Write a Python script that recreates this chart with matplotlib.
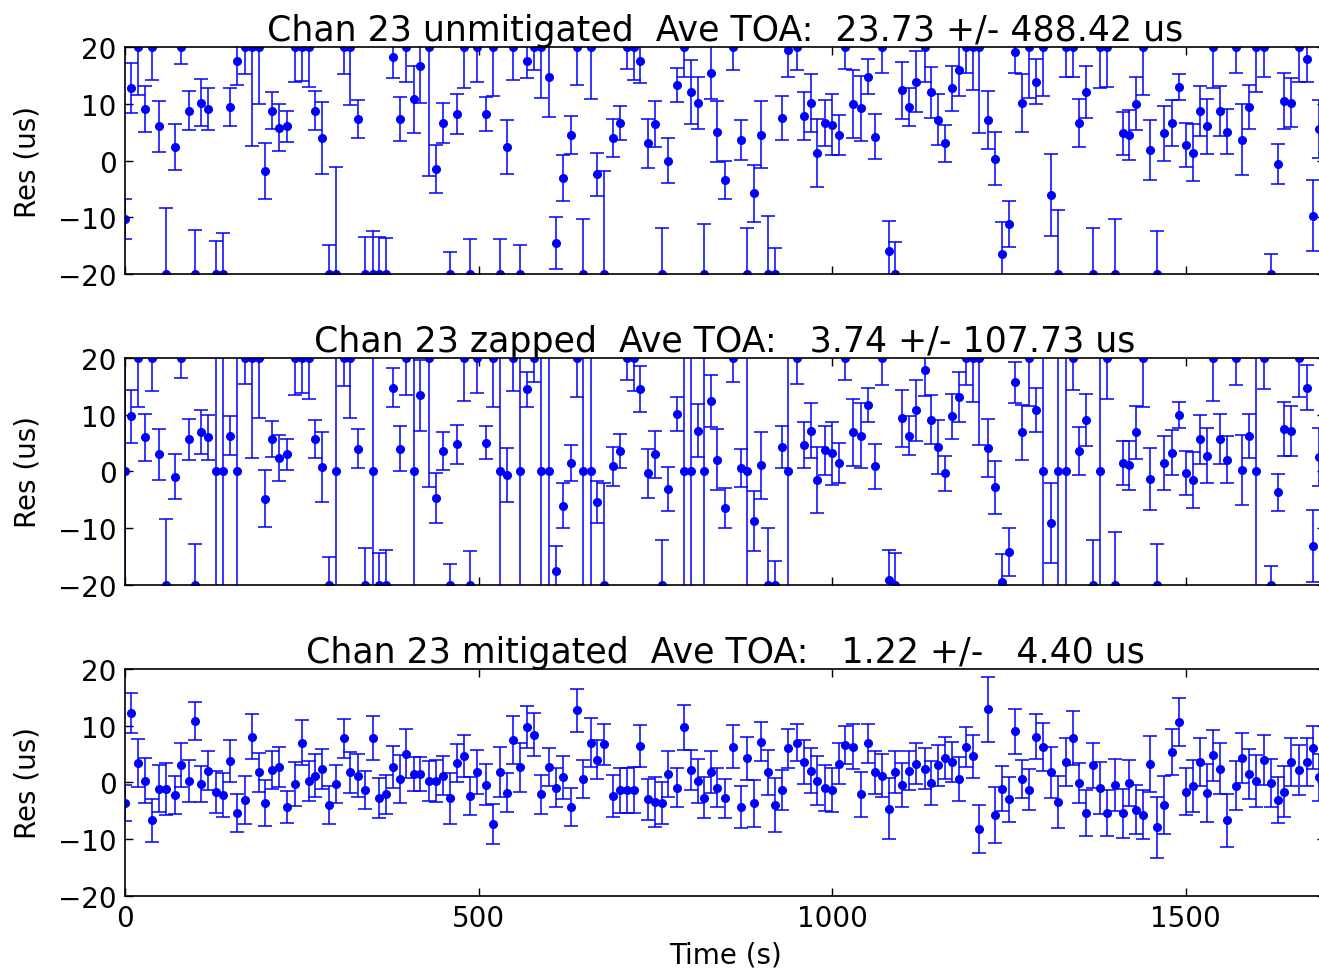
import matplotlib
matplotlib.use('Agg')
import matplotlib.pyplot as plt

# Time of each TOA (s)
times = [0, 9, 19, 28, 38, 48, 58, 70, 79, 90,
         99, 108, 118, 128, 138, 148, 159, 170, 180, 189,
         198, 208, 218, 229, 240, 250, 260, 269, 279, 288,
         298, 309, 318, 330, 340, 350, 359, 369, 379, 389,
         398, 408, 417, 430, 440, 449, 459, 469, 479, 488,
         498, 510, 520, 530, 540, 549, 559, 568, 578, 588,
         600, 610, 620, 630, 639, 648, 659, 668, 678, 690,
         700, 710, 720, 728, 739, 750, 759, 768, 780, 790,
         800, 810, 819, 828, 837, 849, 860, 871, 880, 890,
         900, 909, 919, 929, 938, 950, 960, 970, 979, 990,
         1000, 1009, 1018, 1029, 1041, 1050, 1060, 1070, 1081, 1089,
         1099, 1109, 1118, 1131, 1140, 1150, 1160, 1170, 1180, 1189,
         1199, 1208, 1220, 1230, 1240, 1250, 1259, 1268, 1279, 1288,
         1298, 1310, 1320, 1330, 1340, 1349, 1359, 1369, 1379, 1388,
         1400, 1411, 1420, 1430, 1440, 1450, 1459, 1469, 1480, 1491,
         1500, 1510, 1520, 1530, 1539, 1549, 1559, 1571, 1580, 1590,
         1600, 1610, 1620, 1630, 1639, 1649, 1660, 1671, 1680, 1689]

# Unmitigated residuals (us); off-scale points sit on the +/-20 edge
res_unmit = [-10.3, 12.7, 20, 9.1, 20, 6.0, -20, 2.4, 20, 8.8,
             -20, 10.2, 9.1, -20, -20, 9.4, 17.5, 20, 20, 20,
             -1.9, 8.8, 5.8, 6.0, 20, 20, 20, 8.8, 4.0, -20,
             -20, 20, 20, 7.3, -20, -20, -20, -20, 18.2, 7.3,
             20, 10.8, 16.7, 20, -1.5, 6.6, -20, 8.2, 20, -20,
             20, 8.2, 20, -20, 2.4, 20, -20, 17.5, 20, 20,
             14.8, -14.5, -3.1, 4.5, 20, -20, 20, -2.4, -20, 4.0,
             6.6, 20, 20, 17.6, 3.0, 6.4, -20, 0.0, 13.3, 20,
             12.1, 10.2, -20, 15.5, 5.1, -3.4, 20, 3.6, -20, -5.8,
             4.5, -20, -20, 7.5, 19.5, 20, 7.8, 10.2, 1.4, 6.6,
             6.3, 4.5, 20, 10.0, 9.2, 14.8, 4.2, 20, -16.0, -20,
             12.4, 9.4, 13.9, 20, 12.0, 7.2, 3.0, 12.7, 16.0, 20,
             20, 20, 7.2, 0.3, -16.4, -11.2, 19.1, 10.2, 20, 13.9,
             20, -6.1, -20, 20, 20, 6.6, 12.1, -20, 20, 20,
             -20, 4.8, 4.5, 10.0, 20, 1.8, -20, 4.8, 6.6, 13.0,
             2.7, 1.4, 8.8, 6.0, 20, 8.8, 5.1, 20, 3.7, 9.4,
             20, 20, -20, -0.6, 10.5, 10.2, 20, 17.9, -9.7, 5.6]
err_unmit = [3.5, 4.4, 8.5, 4.0, 5.8, 4.5, 11.7, 4.0, 3.0, 3.4,
             7.8, 4.1, 3.7, 5.8, 7.2, 3.4, 4.2, 4.7, 17.4, 10.0,
             4.9, 3.2, 4.1, 2.7, 6.2, 6.0, 7.1, 3.4, 6.3, 5.1,
             18.8, 4.8, 10.3, 3.4, 6.6, 7.5, 6.6, 6.3, 3.7, 3.9,
             6.2, 5.9, 6.5, 22.7, 4.2, 3.5, 3.9, 3.5, 7.3, 6.2,
             6.1, 3.0, 8.6, 6.2, 4.8, 5.8, 5.1, 3.0, 4.0, 8.9,
             7.1, 4.6, 4.0, 3.3, 6.7, 9.7, 9.2, 3.8, 18.1, 3.3,
             3.0, 3.8, 5.8, 4.0, 4.3, 4.1, 8.1, 3.9, 3.0, 5.2,
             5.6, 4.6, 8.8, 4.6, 5.3, 3.4, 4.0, 3.5, 8.1, 5.0,
             5.9, 10.2, 4.5, 3.8, 4.8, 4.0, 4.2, 5.1, 6.0, 4.1,
             5.4, 3.6, 3.8, 6.0, 5.7, 3.1, 4.0, 4.6, 5.3, 5.6,
             5.0, 3.4, 5.4, 6.1, 4.5, 4.5, 3.2, 3.9, 4.6, 4.6,
             7.5, 15.1, 5.1, 4.7, 5.5, 4.0, 3.6, 5.1, 8.9, 3.9,
             8.6, 7.2, 11.2, 5.2, 5.3, 4.3, 4.6, 8.1, 7.3, 7.0,
             9.7, 3.8, 4.4, 4.7, 8.5, 5.3, 7.5, 4.8, 4.1, 2.3,
             3.9, 5.0, 4.4, 4.8, 7.3, 4.4, 4.0, 4.6, 6.2, 3.9,
             7.9, 5.2, 3.6, 3.5, 4.9, 4.3, 6.1, 4.0, 6.3, 5.1]

# Zapped residuals (us); zapped TOAs are 0 with a huge error
res_zap = [0.0, 9.7, 20, 6.0, 20, 3.0, -20, -0.9, 20, 5.7,
           -20, 7.0, 6.0, 0.0, 0.0, 6.3, 0.0, 20, 20, 20,
           -4.8, 5.7, 2.4, 3.0, 20, 20, 20, 5.7, 0.8, -20,
           0.0, 20, 20, 4.0, -20, 0.0, -20, -20, 14.8, 4.0,
           20, 0.0, 13.4, 20, -4.6, 3.6, -20, 4.8, 20, -20,
           20, 5.1, 20, 0.0, -0.6, 20, 0.0, 14.5, 20, 0.0,
           0.0, -17.6, -6.0, 1.5, 20, 0.0, 0.0, -5.4, -20, 0.9,
           3.6, 20, 20, 14.5, -0.3, 3.0, -20, -3.1, 10.2, 0.0,
           0.0, 7.2, 0.0, 12.4, 2.1, -6.4, 20, 0.6, 0.0, -8.8,
           1.1, -20, -20, 4.4, 0.0, 20, 4.7, 7.2, -1.5, 3.7,
           3.2, 1.5, 20, 6.9, 6.3, 11.8, 0.9, 20, -19.1, -20,
           9.4, 6.3, 10.8, 17.9, 9.1, 4.3, -0.3, 9.7, 13.1, 20,
           20, 20, 4.1, -2.8, -19.5, -14.2, 15.7, 6.9, 20, 10.8,
           0.0, -9.1, 0.0, 0.0, 20, 3.6, 9.1, -20, 0.0, 20,
           -20, 1.5, 1.1, 6.9, 20, -1.3, -20, 1.5, 3.3, 10.0,
           -0.3, -1.5, 5.7, 2.8, 20, 5.7, 2.1, 20, 0.3, 6.3,
           0.0, 20, -20, -3.7, 7.5, 7.2, 20, 14.8, -13.1, 2.5]
err_zap = [1000, 4.6, 8.7, 4.1, 5.9, 4.5, 11.6, 4.0, 3.6, 3.6,
           7.3, 3.9, 3.9, 1000, 1000, 3.4, 1000, 4.6, 17.6, 10.5,
           5.0, 3.2, 4.0, 2.7, 6.5, 6.1, 7.3, 3.4, 6.2, 5.0,
           1000, 4.9, 10.5, 3.4, 6.5, 1000, 5.7, 6.2, 3.5, 4.0,
           6.5, 1000, 6.3, 22.8, 4.4, 3.3, 3.7, 3.4, 7.5, 6.0,
           6.2, 2.9, 8.7, 1000, 4.8, 5.9, 1000, 3.1, 4.2, 1000,
           1000, 4.5, 4.0, 3.1, 6.9, 1000, 1000, 3.7, 17.9, 3.4,
           3.0, 3.9, 5.9, 4.1, 4.3, 4.1, 7.9, 3.9, 3.0, 1000,
           1000, 4.7, 1000, 4.6, 5.3, 3.5, 4.2, 3.4, 1000, 5.3,
           5.9, 10.0, 4.3, 3.7, 1000, 4.5, 4.1, 4.9, 5.9, 4.3,
           5.5, 3.6, 3.9, 5.9, 5.7, 3.0, 4.0, 4.8, 5.3, 5.7,
           5.0, 3.4, 5.4, 4.6, 4.3, 4.7, 3.1, 3.9, 4.4, 4.8,
           7.8, 15.3, 5.1, 4.7, 5.0, 4.2, 3.6, 4.9, 8.5, 3.9,
           1000, 7.0, 1000, 1000, 5.6, 4.2, 4.6, 7.9, 1000, 7.2,
           9.4, 3.8, 4.3, 4.7, 8.7, 5.4, 7.3, 4.8, 4.0, 2.3,
           3.9, 4.9, 4.3, 4.8, 7.5, 4.4, 4.1, 4.8, 6.2, 3.9,
           1000, 5.4, 3.3, 3.3, 4.8, 4.4, 6.8, 4.0, 6.3, 5.1]

# Mitigated residuals (us)
res_mit = [-3.6, 12.2, 3.4, 0.3, -6.7, -1.1, -1.1, -2.2, 3.1, 0.3,
           10.8, -0.3, 2.1, -1.7, -2.2, 3.7, -5.4, -3.1, 8.1, 1.8,
           -3.6, 2.2, 2.7, -4.3, -0.3, 7.0, 0.3, 1.2, 2.4, -4.0,
           -0.3, 7.8, 1.8, 1.2, -1.3, 7.8, -2.8, -2.1, 2.7, 0.6,
           5.1, 1.5, 1.5, 0.3, 0.3, 1.2, -2.8, 3.4, 4.6, -2.4,
           1.8, -0.4, -7.3, 1.8, -1.8, 7.5, 2.7, 9.7, 8.4, -2.1,
           2.7, -0.9, 0.9, -4.3, 12.7, 0.6, 7.0, 4.0, 6.7, -2.4,
           -1.4, -1.4, -1.3, 6.4, -3.0, -3.5, -3.7, 1.5, -0.9, 9.7,
           2.2, 0.3, -2.7, 1.9, -0.9, -2.8, 6.3, -4.3, 4.3, -3.7,
           7.2, 1.8, -4.0, -1.3, 6.0, 7.0, 3.6, 2.1, 0.3, -1.0,
           -1.3, 3.3, 6.6, 6.3, -2.1, 6.9, 1.8, 1.2, -4.6, 1.8,
           -0.4, 2.1, 3.3, 2.4, -0.1, 3.0, 4.3, 3.6, 0.6, 6.3,
           4.6, -8.2, 12.9, -5.7, -1.1, -3.0, 9.0, 0.6, -1.3, 8.1,
           6.3, 1.8, -3.4, 3.6, 7.8, -0.1, -5.4, 3.0, -1.0, -5.4,
           -0.4, -5.4, -0.1, -4.8, -5.7, 3.3, -7.9, -4.0, 5.4, 10.6,
           -1.6, -0.6, 3.6, -1.8, 4.8, 2.4, -6.7, -0.6, 4.3, 1.5,
           0.2, 4.0, -0.1, -3.1, -1.6, 3.6, 2.2, 3.6, 6.1, 0.9]
err_mit = [3.2, 3.5, 4.2, 4.0, 3.8, 4.1, 4.6, 3.4, 3.9, 3.7,
           3.4, 3.2, 3.5, 3.7, 3.9, 3.7, 3.4, 4.2, 4.0, 3.4,
           4.0, 3.3, 3.5, 2.8, 3.9, 4.0, 3.5, 3.8, 3.5, 3.4,
           3.4, 3.4, 3.6, 3.8, 3.4, 3.9, 3.5, 3.4, 3.7, 4.3,
           4.3, 3.0, 3.0, 3.5, 3.7, 3.4, 4.5, 3.4, 3.7, 3.4,
           3.9, 3.6, 3.5, 4.4, 3.4, 4.2, 4.3, 3.7, 3.8, 3.4,
           3.4, 3.5, 3.8, 3.4, 3.8, 3.4, 4.3, 3.4, 3.6, 3.7,
           4.0, 4.0, 4.0, 3.7, 3.6, 4.4, 3.7, 4.1, 3.5, 3.9,
           3.5, 3.9, 3.6, 3.7, 3.5, 3.4, 3.8, 3.7, 3.8, 4.2,
           3.4, 4.0, 4.7, 3.5, 3.5, 3.3, 3.8, 4.0, 4.3, 4.0,
           3.9, 3.6, 3.3, 4.0, 4.0, 3.4, 3.8, 3.8, 5.4, 3.7,
           3.9, 3.5, 3.6, 3.6, 3.9, 3.6, 3.7, 3.6, 3.9, 3.5,
           3.8, 4.3, 5.7, 4.9, 4.0, 4.0, 4.0, 3.4, 3.6, 4.0,
           4.2, 4.5, 4.6, 4.2, 4.8, 3.6, 4.0, 4.0, 4.6, 4.1,
           4.6, 4.3, 4.1, 4.3, 4.3, 4.9, 5.4, 5.1, 4.0, 4.2,
           4.2, 4.6, 4.3, 5.1, 4.5, 4.5, 4.6, 4.3, 4.4, 4.4,
           4.6, 4.4, 4.3, 4.1, 4.5, 4.3, 4.4, 4.2, 3.8, 4.1]

titles = ['Chan 23 unmitigated  Ave TOA:  23.73 +/- 488.42 us',
          'Chan 23 zapped  Ave TOA:   3.74 +/- 107.73 us',
          'Chan 23 mitigated  Ave TOA:   1.22 +/-   4.40 us']

fig, axes = plt.subplots(3, 1, sharex=True, figsize=(13.19, 9.70), dpi=100)

# axes positions (the right edge runs just past the figure, as in the cropped original)
bottoms = [0.7165, 0.3959, 0.0753]
series = [(res_unmit, err_unmit), (res_zap, err_zap), (res_mit, err_mit)]

for ax, b, (res, err), title in zip(axes, bottoms, series, titles):
    ax.set_position([0.0948, b, 0.9098, 0.2340])
    ax.errorbar(times, res, yerr=err, fmt='o', color='b', ms=5.5,
                elinewidth=1.1, capsize=4.8, capthick=1.1, mec='b')
    ax.set_ylim(-20, 20)
    ax.set_yticks([-20, -10, 0, 10, 20])
    ax.set_ylabel('Res (us)', fontsize=20, labelpad=12)
    ax.set_title(title, fontsize=25, pad=5)
    ax.tick_params(direction='in', top=True, right=True, length=6,
                   width=1, labelsize=20, pad=6)
    for s in ax.spines.values():
        s.set_linewidth(1.2)

axes[2].set_xlim(0, 1697)
axes[2].set_xticks([0, 500, 1000, 1500])
axes[2].set_xlabel('Time (s)', fontsize=20, labelpad=6)

fig.savefig('out.png', dpi=100)
